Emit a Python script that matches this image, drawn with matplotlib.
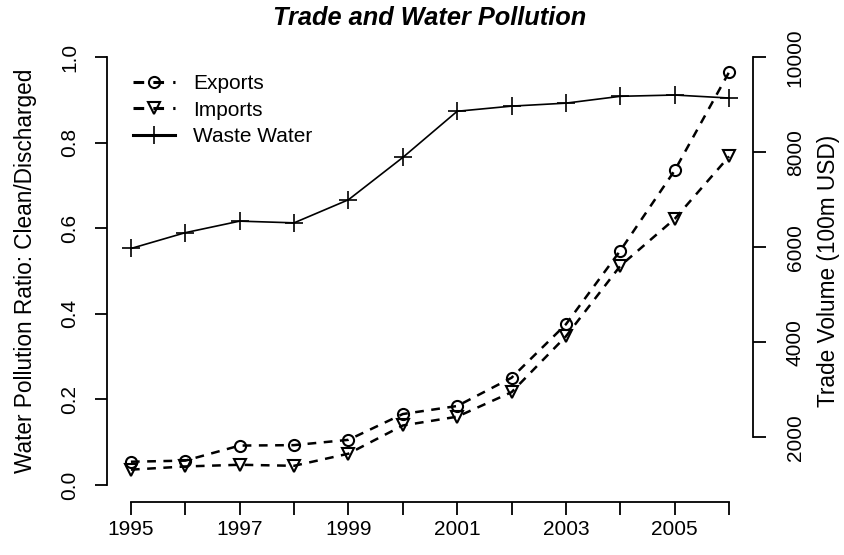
import matplotlib
matplotlib.use("Agg")
import matplotlib.pyplot as plt

plt.rcParams['font.family'] = ['Liberation Sans', 'DejaVu Sans']

years = [1995, 1996, 1997, 1998, 1999, 2000, 2001, 2002, 2003, 2004, 2005, 2006]
waste_water = [0.553, 0.590, 0.617, 0.613, 0.667, 0.766, 0.874, 0.886, 0.893, 0.909, 0.912, 0.905]
exports = [1488, 1511, 1828, 1837, 1949, 2492, 2661, 3256, 4382, 5933, 7620, 9690]
imports = [1321, 1388, 1424, 1402, 1657, 2251, 2436, 2952, 4128, 5612, 6600, 7915]
left_ticks = [0.0, 0.2, 0.4, 0.6, 0.8, 1.0]
right_ticks = [2000, 4000, 6000, 8000, 10000]
x_label_years = [1995, 1997, 1999, 2001, 2003, 2005]

W, H = 844, 555
fig = plt.figure(figsize=(W / 100, H / 100), dpi=100)
left, right, bottom, top = 107, 753, 502, 40.3
ax = fig.add_axes([left / W, 1 - bottom / H, (right - left) / W, (bottom - top) / H])
ax2 = ax.twinx()

FS = 15
LFS = 16.3

def rpad(lo, hi):
    r = hi - lo
    return lo - 0.04 * r, hi + 0.04 * r

# waste water on left axis
l3, = ax.plot(years, waste_water, color='black', lw=1.2, marker='+', markersize=13,
              markeredgewidth=1.2, label='Waste Water')
ax.set_ylim(*rpad(0, 1))
ax.set_xlim(*rpad(1995, 2006))

# trade on right axis
l1, = ax2.plot(years, exports, color='black', lw=1.8, dashes=(3.5, 3), marker='o',
               markersize=8, markerfacecolor='none', markeredgewidth=1.5, label='Exports')
l2, = ax2.plot(years, imports, color='black', lw=1.8, dashes=(3.5, 3), marker='v',
               markersize=9, markerfacecolor='none', markeredgewidth=1.5, label='Imports')
ax2.set_ylim(*rpad(1000, 10000))
ax2.set_xlim(*rpad(1995, 2006))

for a in (ax, ax2):
    a.patch.set_visible(False)
    for s in a.spines.values():
        s.set_visible(False)

ax.spines['left'].set_visible(True)
ax.spines['left'].set_bounds(0, 1)
ax.spines['bottom'].set_visible(True)
ax.spines['bottom'].set_bounds(1995, 2006)
ax2.spines['right'].set_visible(True)
ax2.spines['right'].set_bounds(2000, 10000)
for s in (ax.spines['left'], ax.spines['bottom'], ax2.spines['right']):
    s.set_linewidth(1.3)

ax.set_xticks(years)
ax.set_xticklabels([str(y) if y in x_label_years else '' for y in years], fontsize=FS)
ax.set_yticks(left_ticks)
ax.set_yticklabels(['%.1f' % v for v in left_ticks], rotation=90, va='center', fontsize=FS)
ax2.set_yticks(right_ticks)
ax2.set_yticklabels([str(v) for v in right_ticks], rotation=90, va='center', fontsize=FS)

ax.tick_params(axis='x', length=9, width=1.3, pad=4, direction='out')
ax.tick_params(axis='y', length=9, width=1.3, pad=11, direction='out')
ax2.tick_params(axis='y', length=9, width=1.3, pad=14.5, direction='out')

ax.set_ylabel('Water Pollution Ratio: Clean/Discharged', fontsize=LFS, labelpad=17)
ax2.set_ylabel('Trade Volume (100m USD)', fontsize=LFS, labelpad=9)

fig.text((left + right) / 2 / W, 1 - 18 / H, 'Trade and Water Pollution', fontsize=18.3,
         fontweight='bold', fontstyle='italic', ha='center', va='center')

leg = ax.legend(handles=[l1, l2, l3], loc='upper left', bbox_to_anchor=(133 / W, 1 - 74 / H),
                bbox_transform=fig.transFigure, frameon=False, fontsize=FS,
                handlelength=2.0, handletextpad=0.9, labelspacing=0.36, borderaxespad=0,
                borderpad=0)
for h in leg.legend_handles:
    h.set_linewidth(2.2)

fig.savefig('out.png', dpi=100)
